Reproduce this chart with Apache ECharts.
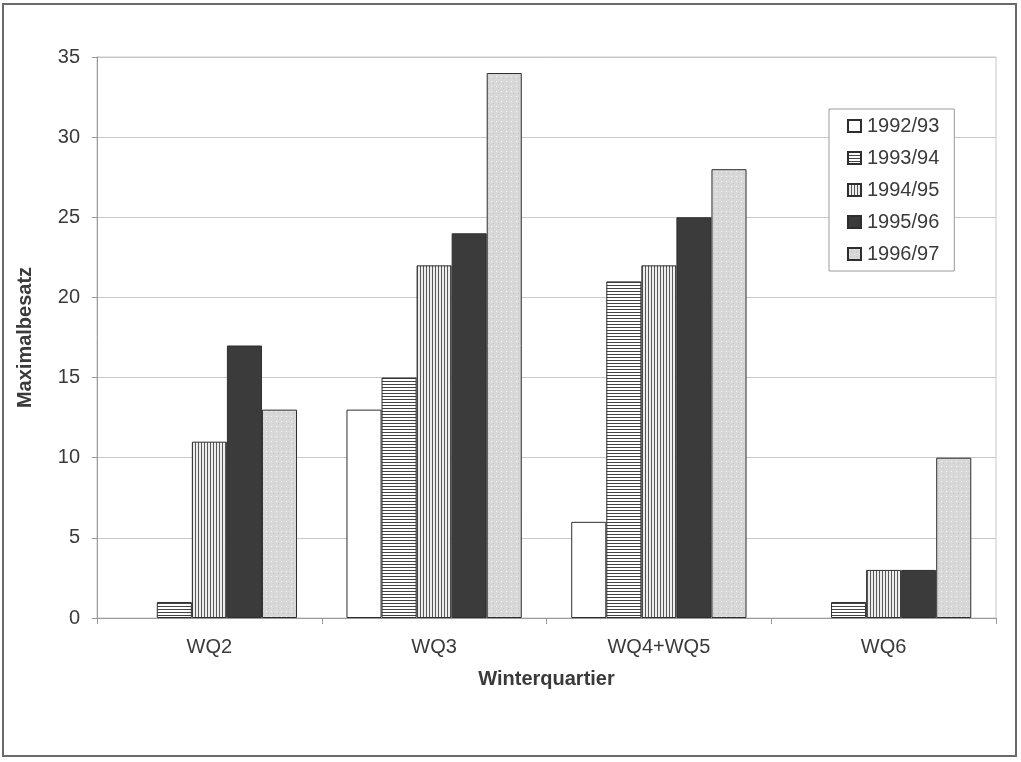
<!DOCTYPE html>
<html>
<head>
<meta charset="utf-8">
<script src="https://cdn.jsdelivr.net/npm/echarts@6/dist/echarts.min.js"></script>
<style>
  html, body { margin: 0; padding: 0; background: #fff; }
  #chart { width: 1021px; height: 762px; }
</style>
</head>
<body>
<div id="chart"></div>
<script>
// Winterquartier categories and maximum occupancy per winter season
const categories = ['WQ2', 'WQ3', 'WQ4+WQ5', 'WQ6'];
const seasons = ['1992/93', '1993/94', '1994/95', '1995/96', '1996/97'];
const s1992 = [0, 13, 6, 0];
const s1993 = [1, 15, 21, 1];
const s1994 = [11, 22, 22, 3];
const s1995 = [17, 24, 25, 3];
const s1996 = [13, 34, 28, 10];
const seriesValues = [s1992, s1993, s1994, s1995, s1996];

// Small repeating tiles used as bar fills
function tile(w, h, draw) {
  const c = document.createElement('canvas');
  c.width = w; c.height = h;
  draw(c.getContext('2d'), w, h);
  return { image: c, repeat: 'repeat' };
}
const fills = [
  '#ffffff',
  tile(4, 3, (ctx, w, h) => {           // horizontal lines
    ctx.fillStyle = '#ffffff'; ctx.fillRect(0, 0, w, h);
    ctx.fillStyle = '#444444'; ctx.fillRect(0, 0, w, 1);
  }),
  tile(3, 4, (ctx, w, h) => {           // vertical lines
    ctx.fillStyle = '#ededed'; ctx.fillRect(0, 0, w, h);
    ctx.fillStyle = '#5a5a5a'; ctx.fillRect(0, 0, 1, h);
  }),
  '#3b3b3b',
  tile(5, 5, (ctx, w, h) => {           // fine dots on light grey
    ctx.fillStyle = '#d8d8d8'; ctx.fillRect(0, 0, w, h);
    ctx.fillStyle = '#f4f4f4'; ctx.fillRect(1, 1, 1, 1);
    ctx.fillStyle = '#c6c6c6'; ctx.fillRect(3, 3, 1, 1);
  })
];

const chart = echarts.init(document.getElementById('chart'), null, { renderer: 'canvas' });
const font = 'Liberation Sans, Arial, sans-serif';
const textColor = '#3a3a3a';

// zero-height bars get no outline so only the axis line shows there
const barData = values => values.map(v => v === 0 ? { value: v, itemStyle: { borderWidth: 0 } } : v);

chart.setOption({
  animation: false,
  backgroundColor: '#ffffff',
  textStyle: { fontFamily: font },
  graphic: [{
    type: 'rect',
    shape: { x: 3, y: 4, width: 1013, height: 752 },
    style: { fill: 'none', stroke: '#6a6a6a', lineWidth: 2 },
    silent: true
  }],
  grid: { left: 97, top: 57, right: 25, bottom: 144, show: true, borderColor: '#c8c8c8', borderWidth: 1 },
  legend: {
    orient: 'vertical',
    left: 829, top: 109,
    padding: [7, 15, 7, 18],
    itemWidth: 13, itemHeight: 12,
    itemGap: 12,
    icon: 'rect',
    borderColor: '#9a9a9a', borderWidth: 1,
    backgroundColor: '#ffffff',
    textStyle: { fontFamily: font, fontSize: 20, color: textColor, padding: [0, 0, 0, 1] },
    data: seasons
  },
  xAxis: {
    type: 'category',
    data: categories,
    name: 'Winterquartier',
    nameLocation: 'middle',
    nameGap: 51,
    nameTextStyle: { fontFamily: font, fontSize: 20, fontWeight: 'bold', color: textColor },
    axisLine: { lineStyle: { color: '#9a9a9a' } },
    axisTick: { show: true, length: 6, lineStyle: { color: '#9a9a9a' } },
    axisLabel: { fontFamily: font, fontSize: 20, color: textColor, margin: 19 }
  },
  yAxis: {
    type: 'value',
    min: 0, max: 35, interval: 5,
    name: 'Maximalbesatz',
    nameLocation: 'middle',
    nameGap: 62,
    nameTextStyle: { fontFamily: font, fontSize: 20, fontWeight: 'bold', color: textColor },
    axisLine: { show: true, lineStyle: { color: '#9a9a9a' } },
    axisTick: { show: true, length: 5, lineStyle: { color: '#9a9a9a' } },
    axisLabel: { fontFamily: font, fontSize: 20, color: textColor, margin: 17 },
    splitLine: { lineStyle: { color: '#c8c8c8' } }
  },
  series: seasons.map((name, i) => ({
    name: name,
    type: 'bar',
    data: barData(seriesValues[i]),
    barGap: '0%',
    barCategoryGap: '22%',
    itemStyle: { color: fills[i], borderColor: '#2e2e2e', borderWidth: 1 }
  }))
});
</script>
</body>
</html>
